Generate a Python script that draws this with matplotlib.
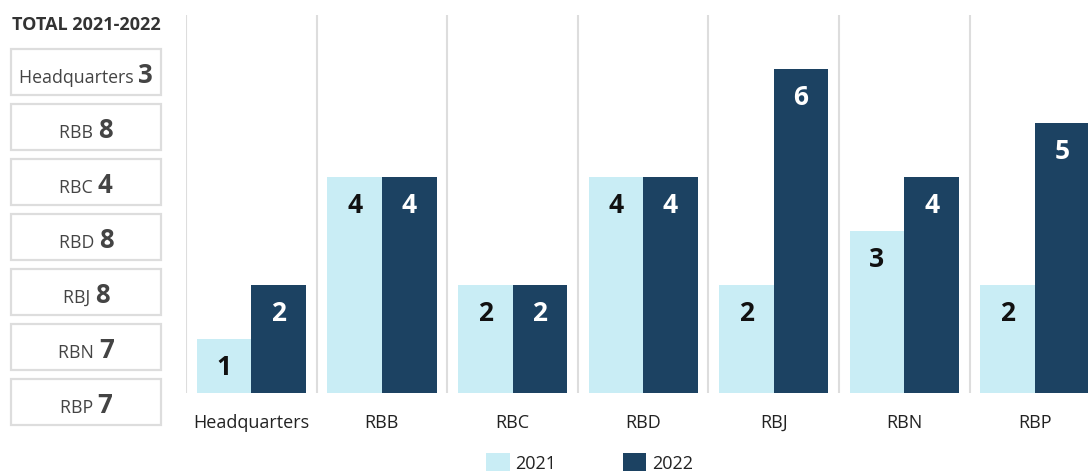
import matplotlib.pyplot as plt
from matplotlib.patches import Rectangle
import numpy as np

plt.rcParams['font.family'] = ['Open Sans', 'DejaVu Sans']

# incidents per office, two years
offices = ['Headquarters', 'RBB', 'RBC', 'RBD', 'RBJ', 'RBN', 'RBP']
y2021 = [1, 4, 2, 4, 2, 3, 2]
y2022 = [2, 4, 2, 4, 6, 4, 5]
years = ['2021', '2022']

LIGHT = '#c9edf5'
DARK = '#1c4262'
GRID = '#dddddd'

W, H = 1088, 471
fig = plt.figure(figsize=(W / 100, H / 100), dpi=100)

def fx(px):
    return px / W

def fy(py):
    # py measured from the top edge
    return 1 - py / H

ax = fig.add_axes([fx(186), fy(393.3), fx(1088 - 186), (393.3 - 15.3) / H])

x = np.arange(len(offices))
bw = 54.6 / 130.6
b1 = ax.bar(x - bw / 2, y2021, bw, color=LIGHT, label=years[0], zorder=2)
b2 = ax.bar(x + bw / 2, y2022, bw, color=DARK, label=years[1], zorder=2)

# value labels sit inside the top of each bar
for bars, vals, col in [(b1, y2021, '#111111'), (b2, y2022, 'white')]:
    for rect, v in zip(bars, vals):
        ax.annotate(str(v), (rect.get_x() + rect.get_width() / 2, v),
                    xytext=(0, -20.5), textcoords='offset points',
                    ha='center', va='center', fontsize=19, fontweight='bold',
                    color=col, zorder=3)

# thin separators between office groups
for sep in np.arange(-0.5, len(offices) - 0.5, 1):
    ax.axvline(sep, color=GRID, lw=1.5, zorder=1)

ax.set_xlim(-0.5, -0.5 + (1088 - 186) / 130.6)
ax.set_ylim(0, 7)
ax.set_xticks(x)
ax.set_xticklabels(offices, fontsize=13, color='#222222')
ax.tick_params(axis='x', length=0, pad=15)
ax.set_yticks([])
for s in ax.spines.values():
    s.set_visible(False)

fig.legend(handles=[b1, b2], labels=years, loc='upper center',
           bbox_to_anchor=(fx(589.5), fy(444)), ncol=2, frameon=False,
           fontsize=13, handlelength=1.3, handleheight=1.3,
           handletextpad=0.3, columnspacing=3.7, borderpad=0,
           labelcolor='#222222')

# totals panel on the left
fig.text(fx(12), fy(25), 'TOTAL 2021-2022', fontsize=13, fontweight='bold',
         color='#333333', ha='left', va='center')

totals = [a + b for a, b in zip(y2021, y2022)]
renderer = fig.canvas.get_renderer()
for i, (name, tot) in enumerate(zip(offices, totals)):
    top = 49 + i * 55
    fig.patches.append(Rectangle((fx(11), fy(top + 46)), fx(150), 46 / H,
                                 transform=fig.transFigure, fill=False,
                                 edgecolor=GRID, lw=1.6))
    t1 = fig.text(0, fy(top + 34), name + ' ', fontsize=12.75, color='#444444',
                  ha='left', va='baseline')
    t2 = fig.text(0, fy(top + 34), str(tot), fontsize=18.5, fontweight='bold',
                  color='#444444', ha='left', va='baseline')
    w1 = t1.get_window_extent(renderer).width
    w2 = t2.get_window_extent(renderer).width
    start = 86 - (w1 + w2) / 2
    t1.set_x(fx(start))
    t2.set_x(fx(start + w1))

fig.savefig('out.png', dpi=100)
